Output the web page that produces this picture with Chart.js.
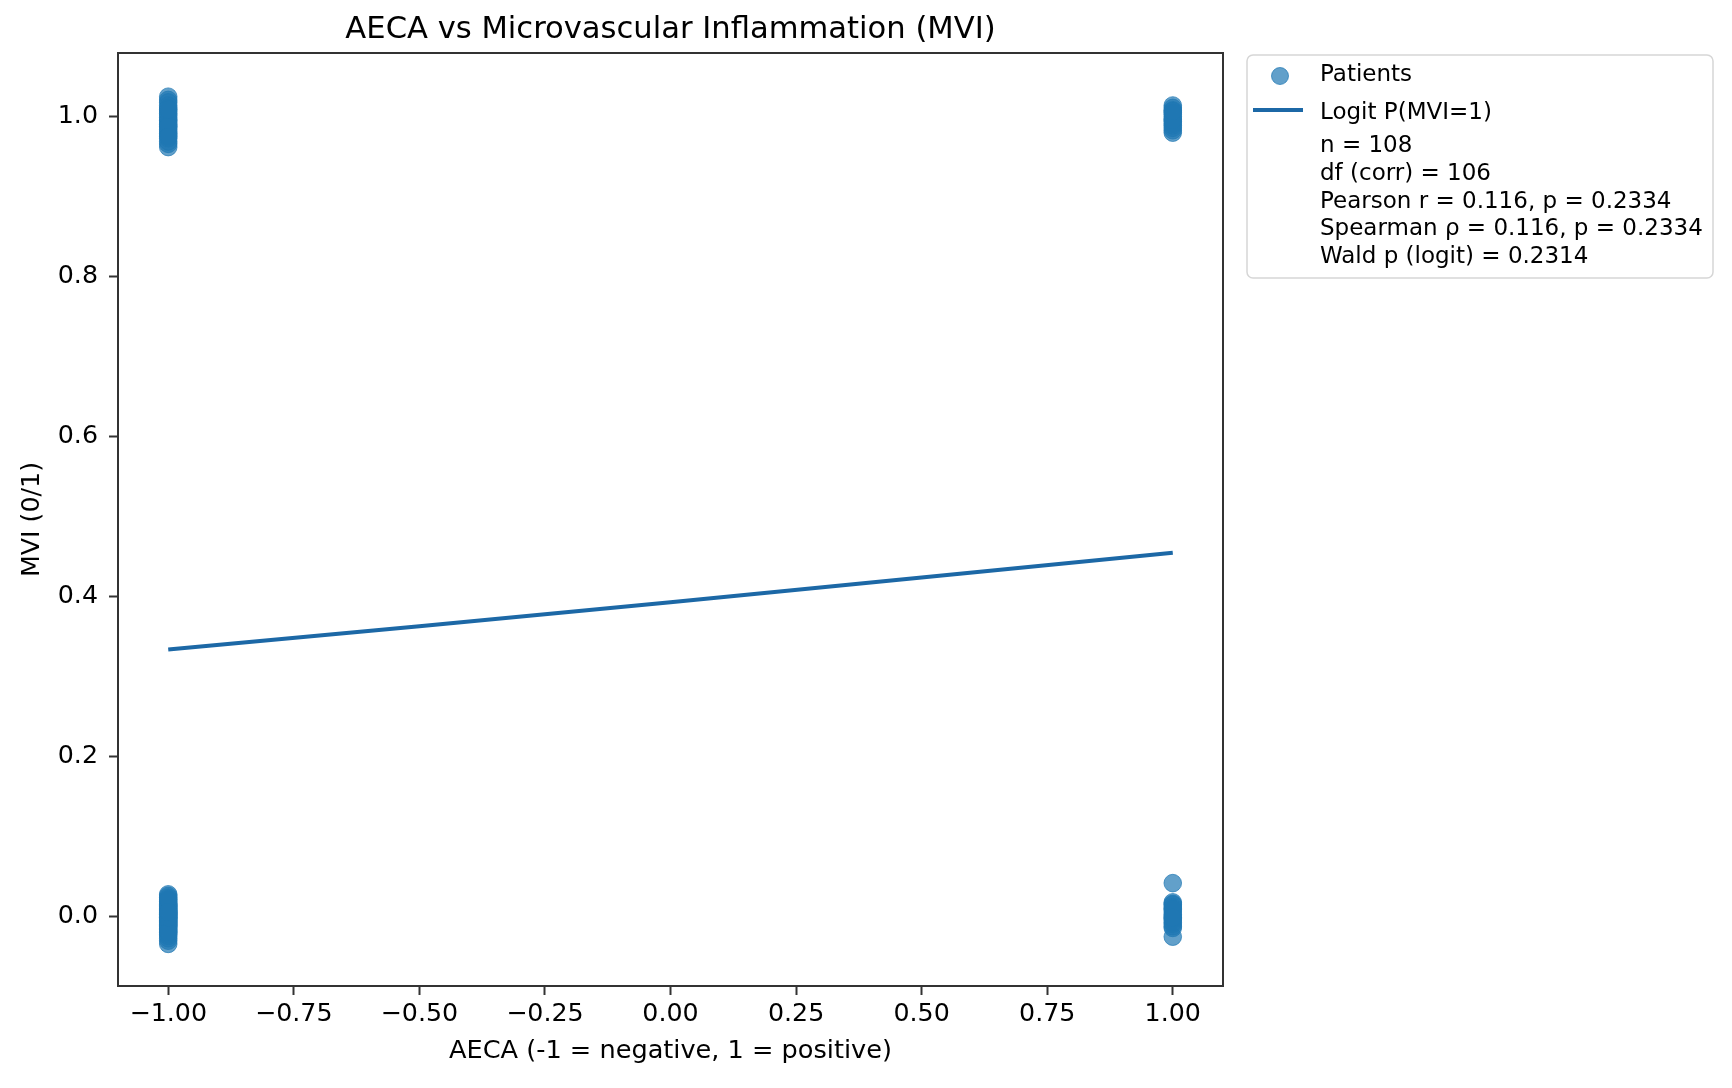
<!DOCTYPE html>
<html>
<head>
<meta charset="utf-8">
<script src="https://cdn.jsdelivr.net/npm/chart.js@4.4.1/dist/chart.umd.min.js"></script>
<style>
  html, body { margin: 0; padding: 0; background: #ffffff; }
  #c { display: block; }
</style>
</head>
<body>
<canvas id="c" width="1732" height="1088" style="width:1732px;height:1088px"></canvas>
<script>
// ---------------- DATA ----------------
const chartTitle = 'AECA vs Microvascular Inflammation (MVI)';
const xAxisTitle = 'AECA (-1 = negative, 1 = positive)';
const yAxisTitle = 'MVI (0/1)';

// AECA group value (x) for each plotted cluster
const groupX = [-1, -1, 1, 1];
// jittered MVI values for each cluster
const negMvi1Y = [1.025, 0.962, 1.011, 0.987, 0.996, 1.004, 0.973, 1.018, 0.981, 0.992,
                  1.007, 0.969, 0.999, 0.984, 1.014, 0.977, 0.990, 1.002, 0.966, 0.995,
                  1.021, 0.979, 0.988, 1.009, 0.975];
const negMvi0Y = [0.028, -0.034, 0.012, -0.006, 0.003, -0.015, 0.021, -0.022, 0.008, -0.001,
                  0.016, -0.011, 0.005, -0.027, 0.000, 0.024, -0.009, 0.010, -0.018, 0.002,
                  -0.004, 0.014, -0.013, 0.007, -0.030, 0.019, -0.007, 0.004, -0.002, 0.011,
                  -0.020, 0.001, 0.017, -0.010, 0.006, -0.024, 0.009, -0.005, 0.013, -0.016,
                  0.026, -0.003, 0.015, -0.012, -0.008, 0.003, -0.019, 0.022, -0.001, 0.006];
const posMvi1Y = [1.014, 0.980, 1.003, 0.991, 1.008, 0.986, 0.997, 1.011, 0.983, 0.994,
                  1.005, 0.989, 1.000, 0.996, 1.007];
const posMvi0Y = [0.042, -0.025, 0.018, 0.012, 0.006, 0.001, -0.004, -0.009, -0.014, 0.015,
                  0.009, 0.003, -0.002, -0.007, -0.012, 0.016, 0.010, -0.001];

// logistic fit P(MVI=1)
const logitX = [-1.0, -0.5, 0.0, 0.5, 1.0];
const logitY = [0.334, 0.363, 0.393, 0.424, 0.455];

// ticks
const xTickValues = [-1.00, -0.75, -0.50, -0.25, 0.00, 0.25, 0.50, 0.75, 1.00];
const xTickLabels = ['\u22121.00', '\u22120.75', '\u22120.50', '\u22120.25', '0.00', '0.25', '0.50', '0.75', '1.00'];
const yTickValues = [0.0, 0.2, 0.4, 0.6, 0.8, 1.0];
const yTickLabels = ['0.0', '0.2', '0.4', '0.6', '0.8', '1.0'];

// legend
const seriesLabels = ['Patients', 'Logit P(MVI=1)'];
const statsLines = ['n = 108', 'df (corr) = 106', 'Pearson r = 0.116, p = 0.2334',
                    'Spearman \u03c1 = 0.116, p = 0.2334', 'Wald p (logit) = 0.2314'];

// ---------------- BUILD ----------------
const clusterY = [negMvi1Y, negMvi0Y, posMvi1Y, posMvi0Y];
const patientPoints = [];
clusterY.forEach((ys, gi) => ys.forEach(y => patientPoints.push({ x: groupX[gi], y: y })));
const logitPoints = logitX.map((x, i) => ({ x: x, y: logitY[i] }));

const FONT = '"DejaVu Sans", sans-serif';
const MARK = 'rgba(31,119,180,0.7)';
const LINE = '#1c68a6';

const framePlugin = {
  id: 'frame',
  afterDatasetsDraw(chart) {
    const { ctx, chartArea: a } = chart;
    ctx.save();
    ctx.strokeStyle = '#333333';
    ctx.lineWidth = 2;
    ctx.strokeRect(a.left, a.top, a.right - a.left, a.bottom - a.top);
    ctx.restore();
  }
};

const titlePlugin = {
  id: 'mplTitle',
  afterDraw(chart) {
    const { ctx, chartArea: a } = chart;
    ctx.save();
    ctx.fillStyle = '#000';
    ctx.font = '30.6px ' + FONT;
    ctx.textAlign = 'center';
    ctx.textBaseline = 'alphabetic';
    ctx.fillText(chartTitle, (a.left + a.right) / 2, 38);
    ctx.restore();
  }
};

const legendPlugin = {
  id: 'mplLegend',
  afterDraw(chart) {
    const ctx = chart.ctx;
    const bx = 1247, by = 55, bw = 466, bh = 223, r = 6;
    ctx.save();
    ctx.beginPath();
    ctx.moveTo(bx + r, by);
    ctx.arcTo(bx + bw, by, bx + bw, by + bh, r);
    ctx.arcTo(bx + bw, by + bh, bx, by + bh, r);
    ctx.arcTo(bx, by + bh, bx, by, r);
    ctx.arcTo(bx, by, bx + bw, by, r);
    ctx.closePath();
    ctx.fillStyle = 'rgba(255,255,255,0.8)';
    ctx.fill();
    ctx.strokeStyle = '#d6d6d6';
    ctx.lineWidth = 1.5;
    ctx.stroke();

    // marker handle
    ctx.beginPath();
    ctx.arc(1280, 76, 8.5, 0, Math.PI * 2);
    ctx.fillStyle = MARK;
    ctx.fill();
    ctx.strokeStyle = MARK;
    ctx.lineWidth = 1;
    ctx.stroke();
    // line handle
    ctx.beginPath();
    ctx.moveTo(1253, 110);
    ctx.lineTo(1303, 110);
    ctx.strokeStyle = LINE;
    ctx.lineWidth = 4;
    ctx.stroke();

    ctx.fillStyle = '#000';
    ctx.font = '23px ' + FONT;
    ctx.textAlign = 'left';
    ctx.textBaseline = 'alphabetic';
    const tx = 1320;
    ctx.fillText(seriesLabels[0], tx, 81);
    ctx.fillText(seriesLabels[1], tx, 119);
    statsLines.forEach((s, i) => ctx.fillText(s, tx, 152 + i * 27.8));
    ctx.restore();
  }
};

new Chart(document.getElementById('c'), {
  type: 'scatter',
  data: {
    datasets: [
      {
        label: seriesLabels[1],
        data: logitPoints,
        showLine: true,
        borderColor: LINE,
        borderWidth: 4,
        pointRadius: 0,
        pointHoverRadius: 0,
        tension: 0,
        fill: false
      },
      {
        label: seriesLabels[0],
        data: patientPoints,
        backgroundColor: MARK,
        borderColor: MARK,
        borderWidth: 1,
        pointRadius: 8.8,
        pointHoverRadius: 8.8
      }
    ]
  },
  options: {
    responsive: false,
    devicePixelRatio: 1,
    animation: false,
    events: [],
    layout: { padding: { left: 0, top: 53, right: 509, bottom: 0 } },
    plugins: {
      legend: { display: false },
      title: { display: false },
      tooltip: { enabled: false }
    },
    scales: {
      x: {
        type: 'linear',
        min: -1.1,
        max: 1.1,
        afterFit(s) { s.height = 102; },
        afterBuildTicks(s) { s.ticks = xTickValues.map(v => ({ value: v })); },
        grid: { display: true, drawOnChartArea: false, drawTicks: true, tickLength: 9, tickWidth: 2, tickColor: '#333333' },
        border: { display: false },
        ticks: {
          autoSkip: false,
          maxRotation: 0,
          padding: 4,
          color: '#000',
          font: { family: FONT, size: 25.3 },
          callback(v, i) { return xTickLabels[i]; }
        },
        title: {
          display: true,
          text: xAxisTitle,
          color: '#000',
          font: { family: FONT, size: 25.6 },
          padding: { top: 0, bottom: 21 }
        }
      },
      y: {
        type: 'linear',
        min: -0.0866,
        max: 1.0796,
        afterFit(s) { s.width = 118; },
        afterBuildTicks(s) { s.ticks = yTickValues.map(v => ({ value: v })); },
        grid: { display: true, drawOnChartArea: false, drawTicks: true, tickLength: 9, tickWidth: 2, tickColor: '#333333' },
        border: { display: false },
        ticks: {
          autoSkip: false,
          padding: 11,
          color: '#000',
          font: { family: FONT, size: 25.3 },
          callback(v, i) { return yTickLabels[i]; }
        },
        title: {
          display: true,
          text: yAxisTitle,
          color: '#000',
          font: { family: FONT, size: 25.3 },
          padding: { top: 17, bottom: 0 }
        }
      }
    }
  },
  plugins: [framePlugin, titlePlugin, legendPlugin]
});
</script>
</body>
</html>
